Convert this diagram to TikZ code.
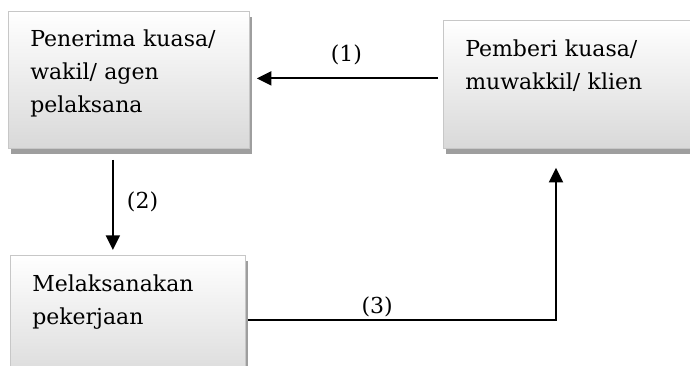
\documentclass[tikz,border=0pt]{standalone}
\usepackage{fontspec}
\setmainfont{DejaVu Serif}
\usetikzlibrary{arrows.meta,shadows}
\tikzset{>=Latex}

\begin{document}
\begin{tikzpicture}[
x=0.75pt, y=-0.75pt,
squarednode/.style={rectangle, anchor=north west, draw=black!22, line width=0.6pt,
  top color=white, bottom color=black!15,
  drop shadow={shadow xshift=2.25pt, shadow yshift=-4.5pt, fill=black!38, opacity=1}},
boxtext/.style={anchor=base west, inner sep=0pt, text width=170pt, align=left,
  font=\fontsize{16.5}{24.75}\selectfont},
label/.style={font=\fontsize{16.5}{20}\selectfont},
arrow/.style={line width=1.4pt, -{Triangle[length=11pt, width=10.5pt]}},
]
\useasboundingbox (0,0) rectangle (690,366);

%Nodes
\node[squarednode, minimum width=180.75pt, minimum height=102.75pt](penerima) at (8,11){};
\node[squarednode, minimum width=195pt, minimum height=96pt](pemberi) at (443,20){};
\node[squarednode, minimum width=176.25pt, minimum height=97.5pt](melaksanakan) at (10,255){};

\node[boxtext](penerima text) at ([shift={(22,36)}]penerima.north west){Penerima kuasa/\\wakil/ agen\\pelaksana};
\node[boxtext](pemberi text) at ([shift={(22,37)}]pemberi.north west){Pemberi kuasa/\\muwakkil/ klien};
\node[boxtext](melaksanakan text) at ([shift={(22,37)}]melaksanakan.north west){Melaksanakan\\pekerjaan};

%Lines
\draw[arrow, shorten <=3.75pt, shorten >=5.25pt] ([shift={(0,-1.5)}]pemberi.west |- penerima.east) -- node[label, above=6.4pt] {(1)} ([shift={(0,-1.5)}]penerima.east);
\draw[arrow, shorten <=8.25pt, shorten >=3.75pt] ([shift={(-16,0)}]penerima.south) -- node[label, right=6.5pt] {(2)} ([shift={(-16,0)}]penerima.south |- melaksanakan.north);
\draw[arrow, shorten >=14.25pt] ([shift={(2,0)}]melaksanakan.east) -| node[label, above=-1.2pt, pos=0.21] {(3)} ([shift={(113,0)}]pemberi.south west);
\end{tikzpicture}
\end{document}
